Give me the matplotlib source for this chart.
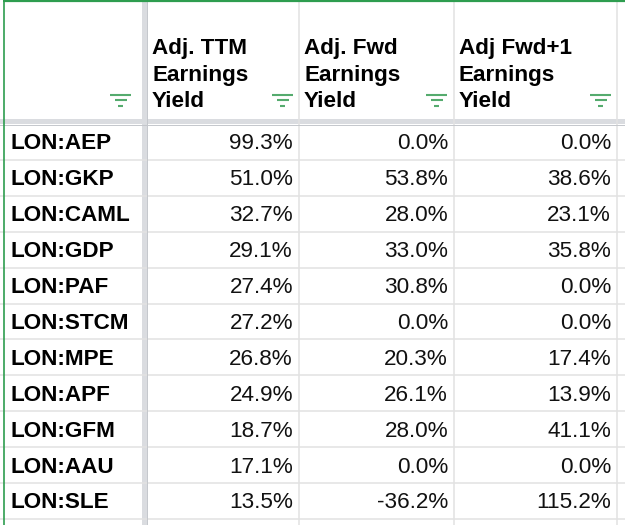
import matplotlib
matplotlib.use('Agg')
import matplotlib.pyplot as plt

tickers = ['LON:AEP', 'LON:GKP', 'LON:CAML', 'LON:GDP', 'LON:PAF', 'LON:STCM',
           'LON:MPE', 'LON:APF', 'LON:GFM', 'LON:AAU', 'LON:SLE']
headers = ['Adj. TTM\nEarnings\nYield', 'Adj. Fwd\nEarnings\nYield', 'Adj Fwd+1\nEarnings\nYield']
ttm_yield = [99.3, 51.0, 32.7, 29.1, 27.4, 27.2, 26.8, 24.9, 18.7, 17.1, 13.5]
fwd_yield = [0.0, 53.8, 28.0, 33.0, 30.8, 0.0, 20.3, 26.1, 28.0, 0.0, -36.2]
fwd1_yield = [0.0, 38.6, 23.1, 35.8, 0.0, 0.0, 17.4, 13.9, 41.1, 0.0, 115.2]

W, H = 625, 525
green = '#2e9d4f'
icon_green = '#55ab6e'
grid = '#e2e2e2'
frozen = '#dadce0'

col_left = [147, 299, 454]      # left edge of value columns
col_right = [299, 454, 617]     # right edge of value columns
row_top = 124
row_h = 35.9

fig = plt.figure(figsize=(W / 100, H / 100), dpi=100)
ax = fig.add_axes([0, 0, 1, 1])
ax.set_xlim(0, W)
ax.set_ylim(H, 0)
ax.axis('off')

# row gridlines
for i in range(len(tickers)):
  y = row_top + row_h * (i + 1)
  ax.plot([0, W], [y, y], color=grid, lw=1.1, solid_capstyle='butt')

# column gridlines
for x in col_right:
  ax.plot([x, x], [0, H], color=grid, lw=1.1, solid_capstyle='butt')

# frozen row / column dividers
ax.fill_between([0, W], 119, 124, color=frozen, lw=0)
ax.plot([0, W], [124.5, 124.5], color='#c4c7cc', lw=0.7)
ax.fill_betweenx([0, H], 142, 147, color=frozen, lw=0)
ax.plot([146.5, 146.5], [0, H], color='#c4c7cc', lw=0.7)

# selection border
ax.plot([3, W], [1, 1], color=green, lw=1.6, solid_capstyle='butt')
ax.plot([3.5, 3.5], [0, H], color=green, lw=1.2, solid_capstyle='butt')

font = 'Liberation Sans'
fs = 16.2

# header text
for j, h in enumerate(headers):
  ax.text(col_left[j] + 5, 75, h, ha='left', va='center', fontsize=fs,
          fontweight='bold', family=font, color='#000000', linespacing=1.33)

# filter icons
def filter_icon(cx):
  for w, y in [(21, 95), (12, 100), (5, 105.5)]:
    ax.plot([cx - w / 2, cx + w / 2], [y, y], color=icon_green, lw=1.5,
            solid_capstyle='butt')

for cx in [120.5, 282.5, 436.5, 600.5]:
  filter_icon(cx)

# rows
for i, t in enumerate(tickers):
  yc = row_top + row_h * (i + 0.5) + 2
  ax.text(10, yc, t, ha='left', va='center', fontsize=fs, fontweight='bold',
          family=font, color='#000000')
  for j, vals in enumerate([ttm_yield, fwd_yield, fwd1_yield]):
    ax.text(col_right[j] - 6, yc, '%.1f%%' % vals[i], ha='right', va='center',
            fontsize=fs, family=font, color='#111111')

fig.savefig('out.png', dpi=100)
